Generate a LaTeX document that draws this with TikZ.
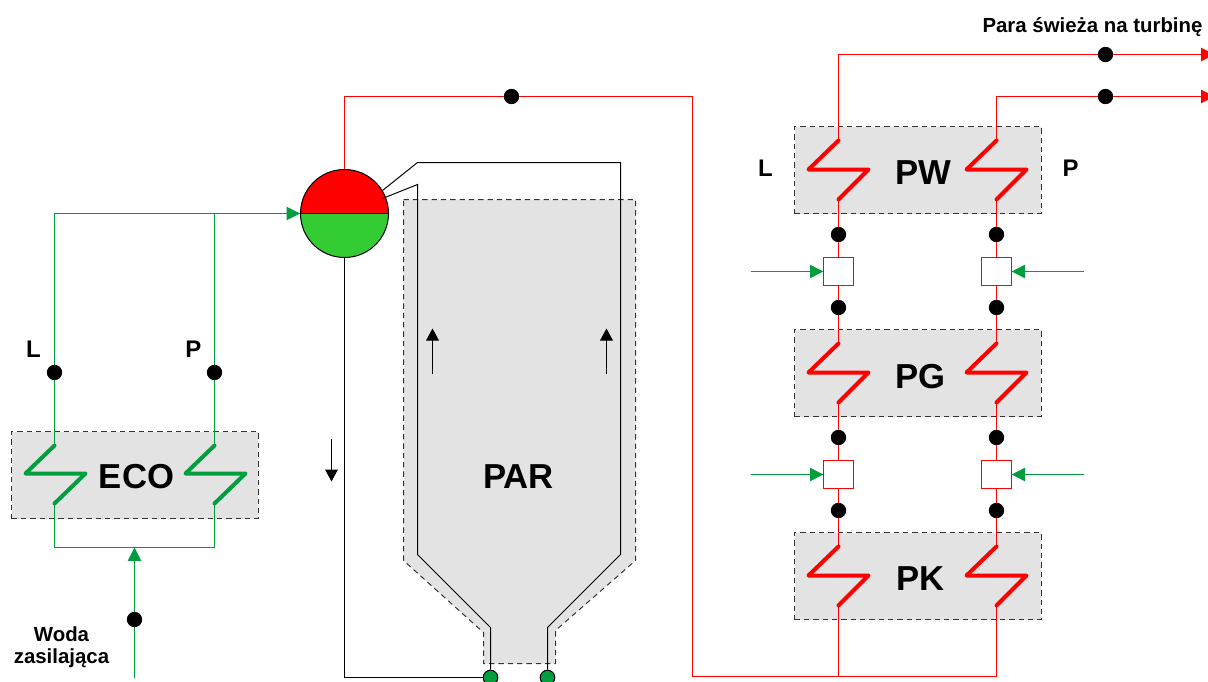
\documentclass[tikz,border=0pt]{standalone}
\usepackage{fontspec}
\setmainfont{Liberation Sans}
\usetikzlibrary{arrows.meta}
\definecolor{pipegreen}{HTML}{009E3D}
\definecolor{drumgreen}{HTML}{33CC33}
\definecolor{boxgray}{HTML}{E3E3E3}
\tikzset{
  zone/.style={draw=black!80,dash pattern=on 4pt off 3pt,line width=.75pt,fill=boxgray,inner sep=0pt,minimum width=185pt,minimum height=65.25pt},
  valve/.style={circle,fill=black,inner sep=0pt,minimum size=11.5pt},
  header/.style={circle,draw=black,line width=.75pt,fill=pipegreen,inner sep=0pt,minimum size=11pt},
  mixer/.style={draw=red,line width=.75pt,fill=white,inner sep=0pt,minimum width=22pt,minimum height=21.5pt},
  water/.style={draw=pipegreen,line width=.75pt},
  steam/.style={draw=red,line width=.75pt},
  riser/.style={draw=black,line width=.75pt},
  coilgreen/.style={draw=pipegreen,line width=3pt,line cap=round,line join=round},
  coilred/.style={draw=red,line width=3pt,line cap=round,line join=round},
  greentip/.style={-{Triangle[length=10pt,width=10pt,color=pipegreen]}},
  redtip/.style={-{Triangle[length=10pt,width=10pt,color=red]}},
  blacktip/.style={-{Triangle[length=9pt,width=9.5pt]}},
  big/.style={font=\fontsize{26}{26}\selectfont\bfseries,inner sep=0pt},
  side/.style={font=\fontsize{18}{18}\selectfont\bfseries,inner sep=0pt},
  small/.style={font=\fontsize{15.3}{15.3}\selectfont\bfseries,inner sep=0pt}
}
\begin{document}
\begin{tikzpicture}[x=.75pt,y=-.75pt]
\useasboundingbox (-.5,-.5) rectangle (1207.5,681.5);
% gray zones
\node[zone] (eco) at (134.5,474.5){};
\node[zone] (pw) at (917.5,169.5){};
\node[zone] (pg) at (917.5,372.5){};
\node[zone] (pk) at (917.5,575.5){};
\draw[draw=black!80,dash pattern=on 4pt off 3pt,line width=.75pt,fill=boxgray] (403,199) -- (635,199) -- (635,560) -- (555,630) -- (555,663) -- (483,663) -- (483,632) -- (403,560) -- cycle;
% drum
\node[circle,draw=black,line width=.75pt,minimum size=66pt,inner sep=0pt,path picture={
  \fill[red] (path picture bounding box.west) rectangle (path picture bounding box.north east);
  \fill[drumgreen] (path picture bounding box.west) rectangle (path picture bounding box.south east);
  \draw[line width=.75pt] (path picture bounding box.west) -- (path picture bounding box.east);
}] (drum) at (344,213){};
% valves
\node[valve] (vecoL) at (54,372){};
\node[valve] (vecoP) at (214,372){};
\node[valve] (vfeed) at (134,619){};
\node[valve] (vtop) at (511,96){};
\node[valve] (voutL) at (1105,54){};
\node[valve] (voutP) at (1105,96){};
\node[valve] (va1) at (838,234){};
\node[valve] (vb1) at (996,234){};
\node[valve] (va2) at (838,307){};
\node[valve] (vb2) at (996,307){};
\node[valve] (va3) at (838,437){};
\node[valve] (vb3) at (996,437){};
\node[valve] (va4) at (838,510){};
\node[valve] (vb4) at (996,510){};
\node[header] (hL) at (490,677){};
\node[header] (hP) at (547,677){};
% mixers
\node[mixer] (ma1) at (838,271){};
\node[mixer] (mb1) at (996,271){};
\node[mixer] (ma2) at (838,474){};
\node[mixer] (mb2) at (996,474){};
% free ends
\coordinate (feedin) at (134,677);
\coordinate (feedT) at (134,547);
\coordinate (ecoLt) at (54,445);
\coordinate (ecoLb) at (54,503);
\coordinate (ecoPt) at (214,445);
\coordinate (ecoPb) at (214,503);
\coordinate (pwLt) at (838,140);
\coordinate (pwLb) at (838,199);
\coordinate (pwPt) at (996,140);
\coordinate (pwPb) at (996,199);
\coordinate (pgLt) at (838,343);
\coordinate (pgLb) at (838,402);
\coordinate (pgPt) at (996,343);
\coordinate (pgPb) at (996,402);
\coordinate (pkLt) at (838,546);
\coordinate (pkLb) at (838,605);
\coordinate (pkPt) at (996,546);
\coordinate (pkPb) at (996,605);
\coordinate (outL) at (1214,54);
\coordinate (outP) at (1214,96);
\coordinate (bus) at (692,676);
% water side
\draw[water,greentip] (vecoL) |- (drum.west);
\draw[water] (vecoP) -- (vecoP |- drum.west);
\draw[water] (vecoL) -- (ecoLt);
\draw[water] (vecoP) -- (ecoPt);
\draw[water] (ecoLb) |- (feedT) -| (ecoPb);
\draw[water,greentip] (vfeed) -- (feedT);
\draw[water] (feedin) -- (vfeed);
\draw[coilgreen] (ecoLt) -- ++(-29,28) -- ++(60,0) -- (ecoLb);
\draw[coilgreen] (ecoPt) -- ++(-29,28) -- ++(60,0) -- (ecoPb);
% downcomer and risers
\draw[riser] (drum.south) |- (hL);
\draw[riser] (hL) -- (490,627) -- (417,554) -- (417,184) -- (382,198);
\draw[riser] (hP) -- (547,627) -- (620,554) -- (620,162) -- (417,162) -- (382,190);
% flow arrows
\draw[riser,blacktip] (331,438) -- (331,481);
\draw[riser,blacktip] (432,373) -- (432,328);
\draw[riser,blacktip] (606,373) -- (606,328);
% steam side
\draw[steam] (drum.north) |- (vtop);
\draw[steam] (vtop) -| (bus) -- (pkPb |- bus) -- (pkPb);
\draw[steam] (pkLb) -- (pkLb |- bus);
\draw[steam] (pkLt) -- (va4);
\draw[steam] (pkPt) -- (vb4);
\draw[steam] (va4) -- (ma2);
\draw[steam] (vb4) -- (mb2);
\draw[steam] (ma2) -- (va3);
\draw[steam] (mb2) -- (vb3);
\draw[steam] (va3) -- (pgLb);
\draw[steam] (vb3) -- (pgPb);
\draw[steam] (pgLt) -- (va2);
\draw[steam] (pgPt) -- (vb2);
\draw[steam] (va2) -- (ma1);
\draw[steam] (vb2) -- (mb1);
\draw[steam] (ma1) -- (va1);
\draw[steam] (mb1) -- (vb1);
\draw[steam] (va1) -- (pwLb);
\draw[steam] (vb1) -- (pwPb);
\draw[steam] (pwLt) |- (voutL);
\draw[steam] (pwPt) |- (voutP);
\draw[steam,redtip] (voutL) -- (outL);
\draw[steam,redtip] (voutP) -- (outP);
\draw[coilred] (pwLt) -- ++(-30,29) -- ++(60,0) -- (pwLb);
\draw[coilred] (pwPt) -- ++(-30,29) -- ++(60,0) -- (pwPb);
\draw[coilred] (pgLt) -- ++(-30,29) -- ++(60,0) -- (pgLb);
\draw[coilred] (pgPt) -- ++(-30,29) -- ++(60,0) -- (pgPb);
\draw[coilred] (pkLt) -- ++(-30,29) -- ++(60,0) -- (pkLb);
\draw[coilred] (pkPt) -- ++(-30,29) -- ++(60,0) -- (pkPb);
% attemperator feeds
\draw[water,greentip] (750,271) -- (ma1);
\draw[water,greentip] (1083,271) -- (mb1);
\draw[water,greentip] (750,474) -- (ma2);
\draw[water,greentip] (1083,474) -- (mb2);
% labels
\node[big] (teco) at (136,476){ECO};
\node[big] (tpar) at (518,476){PAR};
\node[big] (tpw) at (923,172){PW};
\node[big] (tpg) at (920,376){PG};
\node[big] (tpk) at (920,578){PK};
\node[side] (tL1) at (33,349){L};
\node[side] (tP1) at (193,349){P};
\node[side] (tL2) at (765,168){L};
\node[side] (tP2) at (1070,168){P};
\node[small] (twoda) at (61,634){Woda};
\node[small] (tzas) at (61,658){zasilająca};
\node[small] (tpara) at (1092,27){Para świeża na turbinę};
\end{tikzpicture}
\end{document}
